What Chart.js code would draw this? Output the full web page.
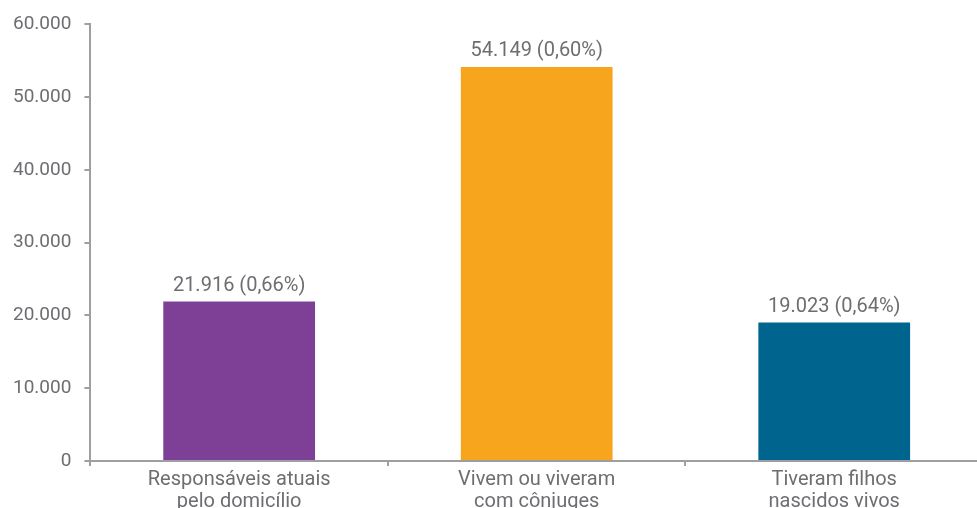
<!DOCTYPE html>
<html>
<head>
<meta charset="utf-8">
<script src="https://cdn.jsdelivr.net/npm/chart.js@4.4.1/dist/chart.umd.min.js"></script>
<style>
  html, body { margin: 0; padding: 0; background: #fff; overflow: hidden; }
  #wrap { width: 990px; height: 540px; position: relative; }
</style>
</head>
<body>
<div id="wrap"><canvas id="chart"></canvas></div>
<script>
// data
const categories = [
  ['Responsáveis atuais', 'pelo domicílio'],
  ['Vivem ou viveram', 'com cônjuges'],
  ['Tiveram filhos', 'nascidos vivos']
];
const values = [21916, 54149, 19023];
const shares = ['0,66%', '0,60%', '0,64%'];
const barColors = ['#7E3F96', '#F7A51D', '#00658E'];
const yTicks = [0, 10000, 20000, 30000, 40000, 50000, 60000];

const textColor = '#6D6E71';
const axisColor = '#9D9FA2';
const fontFamily = 'Roboto, "DejaVu Sans", sans-serif';

const fmt = n => n.toLocaleString('de-DE');

// writes "value (share)" above each bar
const valueLabels = {
  id: 'valueLabels',
  afterDatasetsDraw(chart) {
    const ctx = chart.ctx;
    const meta = chart.getDatasetMeta(0);
    ctx.save();
    ctx.font = '20px ' + fontFamily;
    ctx.fillStyle = textColor;
    ctx.textAlign = 'center';
    ctx.textBaseline = 'bottom';
    meta.data.forEach((bar, i) => {
      ctx.fillText(fmt(values[i]) + ' (' + shares[i] + ')', bar.x, bar.y - 6);
    });
    ctx.restore();
  }
};

new Chart(document.getElementById('chart'), {
  type: 'bar',
  data: {
    labels: categories,
    datasets: [{
      data: values,
      backgroundColor: barColors,
      borderWidth: 0,
      categoryPercentage: 1,
      barPercentage: 0.51
    }]
  },
  options: {
    responsive: true,
    maintainAspectRatio: false,
    animation: false,
    layout: { padding: { top: 14, left: 0, right: 7, bottom: 24 } },
    plugins: { legend: { display: false }, tooltip: { enabled: false } },
    scales: {
      x: {
        offset: true,
        border: { color: axisColor, width: 2 },
        grid: { offset: true, drawOnChartArea: false, color: axisColor, lineWidth: 2, tickLength: 5 },
        ticks: { color: textColor, font: { family: fontFamily, size: 20, lineHeight: 1.1 }, padding: 3, maxRotation: 0 }
      },
      y: {
        min: 0,
        max: 60000,
        afterBuildTicks: axis => { axis.ticks = yTicks.map(v => ({ value: v })); },
        border: { color: axisColor, width: 2 },
        grid: { drawOnChartArea: false, color: axisColor, lineWidth: 2, tickLength: 6 },
        ticks: { color: textColor, font: { family: fontFamily, size: 19 }, padding: 13, callback: v => fmt(v) }
      }
    }
  },
  plugins: [valueLabels]
});
</script>
</body>
</html>
